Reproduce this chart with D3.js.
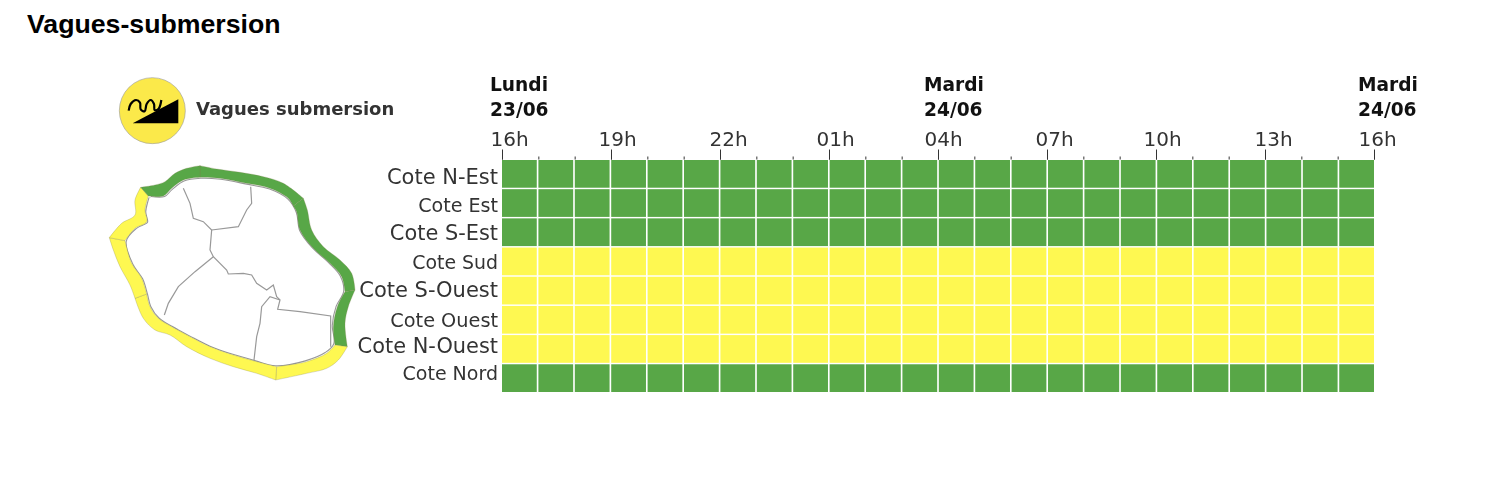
<!DOCTYPE html>
<html lang="fr">
<head>
<meta charset="utf-8">
<script src="https://cdn.jsdelivr.net/npm/d3@7/dist/d3.min.js"></script>
<style>
html,body{margin:0;padding:0;background:#fff;}
svg{display:block;}
text{font-family:"DejaVu Sans",sans-serif;}
</style>
</head>
<body>
<svg id="c" width="1486" height="486"></svg>
<script>
// ---- data ----
const title = "Vagues-submersion";
const legendLabel = "Vagues submersion";
const coasts = ["Cote N-Est","Cote Est","Cote S-Est","Cote Sud","Cote S-Ouest","Cote Ouest","Cote N-Ouest","Cote Nord"];
const V = "vert", J = "jaune";
const coteNEst   = [V,V,V,V,V,V,V,V,V,V,V,V,V,V,V,V,V,V,V,V,V,V,V,V];
const coteEst    = [V,V,V,V,V,V,V,V,V,V,V,V,V,V,V,V,V,V,V,V,V,V,V,V];
const coteSEst   = [V,V,V,V,V,V,V,V,V,V,V,V,V,V,V,V,V,V,V,V,V,V,V,V];
const coteSud    = [J,J,J,J,J,J,J,J,J,J,J,J,J,J,J,J,J,J,J,J,J,J,J,J];
const coteSOuest = [J,J,J,J,J,J,J,J,J,J,J,J,J,J,J,J,J,J,J,J,J,J,J,J];
const coteOuest  = [J,J,J,J,J,J,J,J,J,J,J,J,J,J,J,J,J,J,J,J,J,J,J,J];
const coteNOuest = [J,J,J,J,J,J,J,J,J,J,J,J,J,J,J,J,J,J,J,J,J,J,J,J];
const coteNord   = [V,V,V,V,V,V,V,V,V,V,V,V,V,V,V,V,V,V,V,V,V,V,V,V];
const rows = [coteNEst,coteEst,coteSEst,coteSud,coteSOuest,coteOuest,coteNOuest,coteNord];
const hourLabels = ["16h","19h","22h","01h","04h","07h","10h","13h","16h"];
const dayLabels = [["Lundi","23/06",0,-12],["Mardi","24/06",12,-14],["Mardi","24/06",24,-16]];

// map outline (sketch-map geometry), outer and inner edge of the coastal band per sector
const sectors = {
 "Cote Nord":[[[122,352],[165,345],[195,335],[225,310],[260,295],[300,287]],[[300,322],[250,330],[215,355],[190,378],[145,378]]],
 "Cote N-Est":[[[300,287],[350,297],[420,307],[490,320],[550,340],[610,385]],[[580,408],[565,385],[510,355],[440,340],[360,325],[300,322]]],
 "Cote Est":[[[610,385],[622,420],[635,480],[670,530],[720,570],[755,610],[765,660]],[[735,665],[725,620],[690,580],[640,535],[600,480],[590,425],[580,408]]],
 "Cote S-Est":[[[765,660],[745,710],[735,760],[742,830]],[[705,825],[700,770],[712,710],[735,665]]],
 "Cote Sud":[[[742,830],[715,870],[680,895],[620,910],[527,930]],[[530,890],[620,875],[680,850],[705,825]]],
 "Cote S-Ouest":[[[527,930],[470,910],[400,890],[330,865],[260,830],[210,795],[165,780],[130,745],[105,685]],[[140,672],[150,710],[175,745],[215,770],[270,800],[330,830],[400,855],[470,875],[530,890]]],
 "Cote Ouest":[[[105,685],[90,645],[60,590],[40,540],[28,503]],[[75,512],[95,580],[125,625],[140,672]]],
 "Cote N-Ouest":[[[28,503],[65,460],[105,435],[105,390],[122,352]],[[145,378],[135,420],[140,455],[105,475],[75,512]]]
};
const islandEdge = [[145,378],[190,378],[215,355],[250,330],[300,322],[360,325],[440,340],[510,355],[565,385],[590,425],[600,480],[640,535],[690,580],[725,620],[735,665],[712,710],[700,770],[705,825],[680,850],[620,875],[530,890],[470,875],[400,855],[330,830],[270,800],[215,770],[175,745],[150,710],[140,672],[125,625],[95,580],[75,512],[105,475],[140,455],[135,420]];
const communeLines = [
 [[250,355],[270,400],[280,445],[310,455],[335,480],[330,540],[340,560],[380,600],[385,612],[430,610],[455,615],[470,640],[500,660],[520,645],[530,680],[540,690],[533,718],[600,725],[692,738],[692,830]],
 [[335,480],[415,470],[440,420],[455,400],[452,350]],
 [[340,560],[285,605],[235,650],[205,700],[193,735]],
 [[540,690],[510,680],[485,710],[480,760],[470,800],[462,870]]
];
const wave = [[56,122],[62,102],[78,90],[90,98],[92,118],[104,124],[110,102],[122,90],[132,102],[134,120],[146,116],[154,90]];
const wedge = [[68,160],[205,88],[205,160]];

// ---- scales ----
const svg = d3.select("#c");
const level = d3.scaleOrdinal().domain([V,J]).range(["#58a747","#fef851"]);
const t = d3.scaleLinear().domain([0,24]).range([502,1374]);
const xBand = d3.scaleBand().domain(d3.range(24)).range([502,1374]).paddingInner(0.045);
const yBand = d3.scaleBand().domain(coasts).range([160,392]).paddingInner(0.05);
const mx = d3.scaleLinear().domain([0,300]).range([100,400]);
const my = d3.scaleLinear().domain([0,320]).range([70,390]);
const zoomX = d => mx(d/3), zoomY = d => my(d/3);
const mapLine = d3.line().x(d=>zoomX(d[0])).y(d=>zoomY(d[1]));
const mapCurve = d3.line().x(d=>zoomX(d[0])).y(d=>zoomY(d[1])).curve(d3.curveCatmullRom.alpha(0.5));

svg.append("text").attr("x",27).attr("y",33).text(title)
  .style("font-family",'"Liberation Sans",sans-serif').style("font-weight",700)
  .style("font-size","26.7px").attr("fill","#000");

const g = svg.append("g").style("filter","blur(0.6px)");

// ---- heat cells ----
rows.forEach((vals,ri)=>{
  g.append("g").selectAll("rect").data(vals).join("rect")
    .attr("x",(d,i)=>xBand(i)).attr("y",yBand(coasts[ri]))
    .attr("width",xBand.bandwidth()).attr("height",yBand.bandwidth())
    .attr("fill",d=>level(d));
});

// ---- axis ----
const axisY = 159.5;
const minor = d3.axisTop(t).tickValues(d3.range(0,25)).tickSize(3).tickFormat("");
const major = d3.axisTop(t).tickValues(d3.range(0,25,3)).tickSize(10)
  .tickFormat((d,i)=>hourLabels[i]);
const gMinor = g.append("g").attr("transform",`translate(0,${axisY})`).call(minor);
const gMajor = g.append("g").attr("transform",`translate(0,${axisY})`).call(major);
[gMinor,gMajor].forEach(a=>{
  a.select(".domain").remove();
  a.selectAll("line").attr("stroke","#333").attr("stroke-width",1);
});
const hourNudge = [7,6,8,6,5,7,6,8,3];
gMajor.selectAll("text").attr("y",-13.5).attr("dy",0)
  .attr("dx",(d,i)=>hourNudge[i])
  .style("font-size","20px").attr("fill","#333").attr("text-anchor","middle");

// ---- day labels ----
dayLabels.forEach(([a,b,h,off])=>{
  const x = t(h)+off;
  [a,b].forEach((s,i)=>g.append("text").attr("x",x).attr("y",91+i*25).text(s)
    .style("font-size","18.6px").style("font-weight",700).attr("fill","#111"));
});

// ---- row labels ----
const labelSize = [21,19.1,20.9,18.9,21,19.3,20.9,19];
const labelShift = [4,2.5,1.5,1,-0.5,0.5,-2,-5];
coasts.forEach((c,i)=>{
  g.append("text").attr("x",498).attr("y",yBand(c)+yBand.bandwidth()/2+labelShift[i]+6.5)
    .attr("text-anchor","end").text(c)
    .style("font-size",labelSize[i]+"px").attr("fill","#333");
});

// ---- legend ----
const cx = zoomX(157), cy = zoomY(122);
g.append("circle").attr("cx",cx).attr("cy",cy).attr("r",33)
  .attr("fill","#fbe94a").attr("stroke","#999").attr("stroke-width",0.6);
const iconX = d3.scaleLinear().domain([0,90]).range([110,200]);
const iconY = d3.scaleLinear().domain([0,80]).range([70,150]);
g.append("path").attr("d",d3.line().x(d=>iconX(d[0]/3)).y(d=>iconY(d[1]/3))(wedge)+"Z").attr("fill","#000");
g.append("path").attr("d",d3.line().x(d=>iconX(d[0]/3)).y(d=>iconY(d[1]/3)).curve(d3.curveCatmullRom)(wave))
  .attr("fill","none").attr("stroke","#000").attr("stroke-width",2.2);
g.append("text").attr("x",196).attr("y",115).text(legendLabel)
  .style("font-size","18px").style("font-weight",700).attr("fill","#333");

// ---- map ----
const centre = [400,610];
const insetEdge = islandEdge.map(p=>[centre[0]+(p[0]-centre[0])*0.975, centre[1]+(p[1]-centre[1])*0.975]);
const ring = insetEdge.concat([insetEdge[0]]);
g.append("path").attr("d",mapLine(islandEdge)+"Z").attr("fill","#fff").attr("stroke","none");
g.append("path").attr("d",mapCurve(ring)).attr("fill","#fff").attr("stroke","#999").attr("stroke-width",4);
g.append("path").attr("d",mapCurve(ring)).attr("fill","#fff").attr("stroke","#fff").attr("stroke-width",1.8);
g.selectAll("path.commune").data(communeLines).join("path").attr("class","commune")
  .attr("d",mapLine).attr("fill","none").attr("stroke","#999").attr("stroke-width",1.2);
coasts.forEach((c,i)=>{
  const [outer,inner] = sectors[c];
  const dPath = mapCurve(outer)+"L"+mapCurve(inner).slice(1)+"Z";
  g.append("path").attr("d",dPath)
    .attr("fill",level(rows[i][0])).attr("stroke","#7f7f50").attr("stroke-opacity",0.45).attr("stroke-width",0.6);
});
</script>
</body>
</html>
